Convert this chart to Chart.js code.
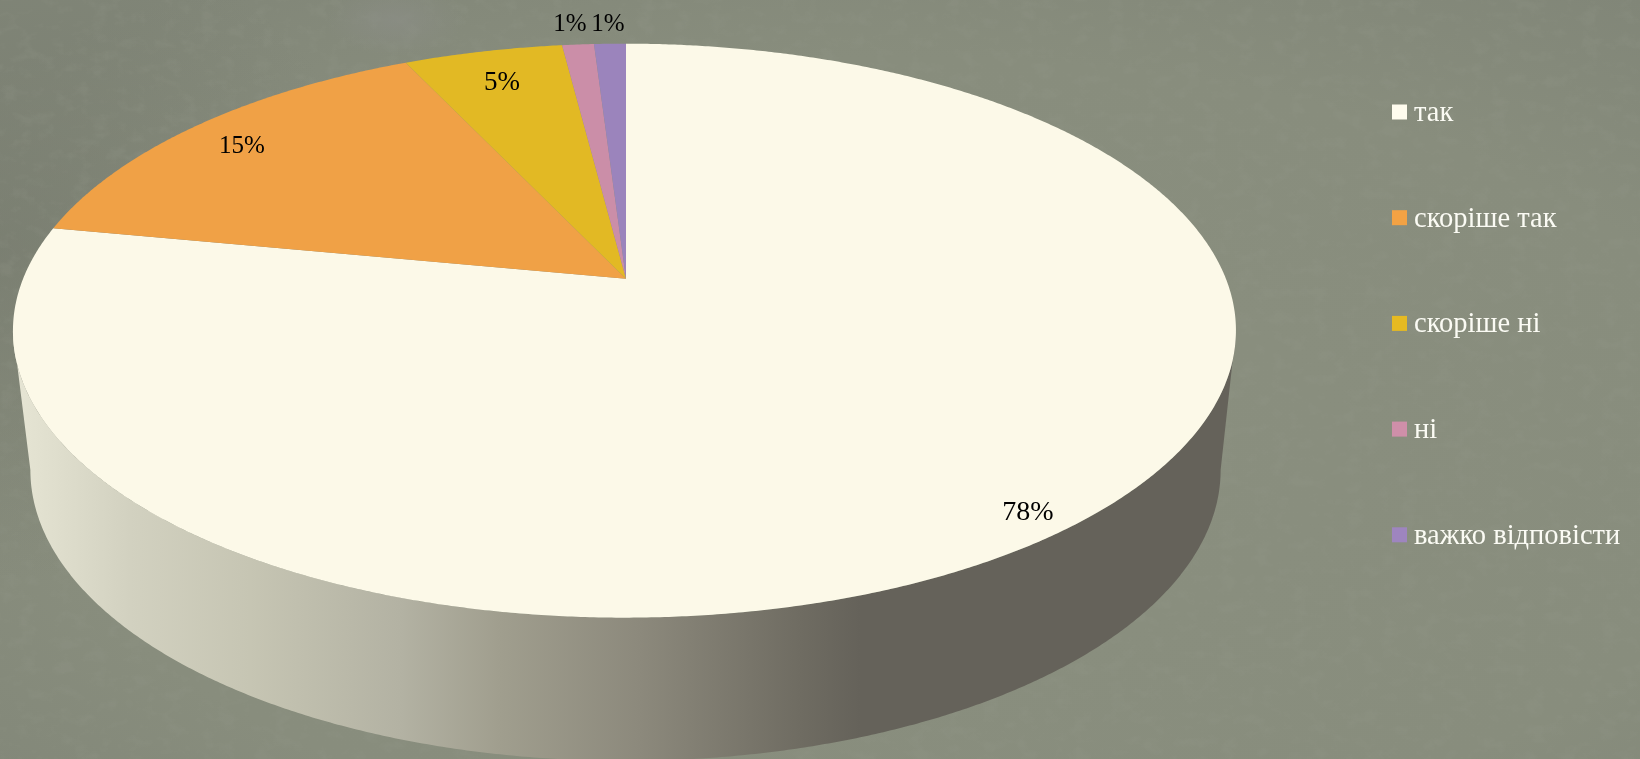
<!DOCTYPE html>
<html lang="uk">
<head>
<meta charset="utf-8">
<title>Pie</title>
<script src="https://cdn.jsdelivr.net/npm/chart.js"></script>
<style>
html,body{margin:0;padding:0;width:1640px;height:759px;overflow:hidden;background:#858a7a;}
#bg{position:absolute;left:0;top:0;width:1640px;height:759px;}
canvas#c{position:absolute;left:0;top:0;}
</style>
</head>
<body>
<svg id="bg" xmlns="http://www.w3.org/2000/svg" width="1640" height="759">
  <defs>
    <radialGradient id="vig" cx="55%" cy="60%" r="75%">
      <stop offset="0" stop-color="#8a8f7f"/>
      <stop offset="0.7" stop-color="#888d7d"/>
      <stop offset="1" stop-color="#818678"/>
    </radialGradient>
    <radialGradient id="shade" cx="50%" cy="50%" r="50%">
      <stop offset="0" stop-color="#72766a" stop-opacity="0.55"/>
      <stop offset="1" stop-color="#72766a" stop-opacity="0"/>
    </radialGradient>
    <radialGradient id="patch" cx="50%" cy="50%" r="50%">
      <stop offset="0" stop-color="#8c8e88" stop-opacity="0.6"/>
      <stop offset="1" stop-color="#8c8e88" stop-opacity="0"/>
    </radialGradient>
    <filter id="grain" x="0" y="0" width="100%" height="100%">
      <feTurbulence type="fractalNoise" baseFrequency="0.055 0.08" numOctaves="4" seed="23"/>
      <feColorMatrix type="matrix" values="0 0 0 0 0.30  0 0 0 0 0.32  0 0 0 0 0.26  0 0 0 3.4 -1.7"/>
    </filter>
  </defs>
  <rect width="1640" height="759" fill="url(#vig)"/>
  <ellipse cx="0" cy="250" rx="380" ry="330" fill="url(#shade)"/>
  <rect width="1640" height="759" filter="url(#grain)" opacity="0.2"/>
  <ellipse cx="395" cy="20" rx="70" ry="36" fill="url(#patch)"/>
</svg>
<canvas id="c" width="1640" height="759"></canvas>
<script>
const categories = ['так', 'скоріше так', 'скоріше ні', 'ні', 'важко відповісти'];
const shares = [78, 15, 5, 1, 1];
const sliceColors = ['#fcf9e8', '#f0a146', '#e2b924', '#cb8ea8', '#9b84bc'];
const legendColors = ['#fffcee', '#f3a244', '#e6ba22', '#cf8fa9', '#9e85bf'];
const valueLabels = ['78%', '15%', '5%', '1%', '1%'];

// Layout of the tilted disc (a perspective view of the pie's circle).
const VIEW = {cx: 626, cy: 278.7, rx: 601.4, ry: 277.6, tilt: 0.181, lean: -0.0025};
const BASE = {cx: 625.5, cy: 417.3, rx: 585.3, ry: 281.4, tilt: 0.181, lean: 0};
const LABEL_AT = [[1028, 513], [242, 146], [502, 83], [570, 24], [608, 24]];
const LABEL_PX = [28, 25, 27, 25, 25];
const LEGEND = {x: 1392, box: 15, gap: 7, firstY: 112, step: 105.7, textDy: 1.5, font: '28.5px "Liberation Serif"', color: '#fbfbf4'};
const SIDE_STOPS = [[15,'#e6e5d4'],[40,'#e2e1d0'],[130,'#d2d1c0'],[250,'#c6c5b3'],[400,'#b3b2a3'],[500,'#a09e8e'],[640,'#8c897c'],[800,'#6f6c62'],[860,'#65625a'],[1240,'#65625a']];

function project(v, a) {
  const s = Math.sin(a), c = Math.cos(a), w = 1 - v.tilt * s - v.lean * c;
  return [v.cx + v.rx * c / w, v.cy + v.ry * s / w];
}
function sweep(ctx, v, a0, a1) {
  const n = Math.max(2, Math.ceil(Math.abs(a1 - a0) / 0.006));
  for (let i = 0; i <= n; i++) {
    const p = project(v, a0 + (a1 - a0) * i / n);
    ctx.lineTo(p[0], p[1]);
  }
}
// Angles (library convention) where the disc's outline turns from back to front.
const FRONT_START = Math.asin(VIEW.tilt);
const FRONT_END = Math.PI - FRONT_START;

class PerspectiveArc extends Chart.ArcElement {
  static id = 'perspectiveArc';
  draw(ctx) {
    const {startAngle, endAngle} = this.getProps(['startAngle', 'endAngle']);
    ctx.save();
    ctx.fillStyle = this.options.backgroundColor;
    ctx.beginPath();
    ctx.moveTo(VIEW.cx, VIEW.cy);
    sweep(ctx, VIEW, startAngle, endAngle);
    ctx.closePath();
    ctx.fill();
    ctx.restore();
  }
}
class PerspectivePie extends Chart.PieController {
  static id = 'perspectivePie';
  static defaults = {dataElementType: 'perspectiveArc'};
}
Chart.register(PerspectiveArc, PerspectivePie);

const sidePlugin = {
  id: 'discSide',
  beforeDatasetsDraw(chart) {
    const ctx = chart.ctx;
    const grad = ctx.createLinearGradient(0, 0, 1640, 0);
    SIDE_STOPS.forEach(s => grad.addColorStop(s[0] / 1640, s[1]));
    chart.getDatasetMeta(0).data.forEach(el => {
      const a0 = Math.max(el.startAngle, FRONT_START);
      const a1 = Math.min(el.endAngle, FRONT_END);
      if (a1 <= a0) return;
      ctx.save();
      ctx.fillStyle = grad;
      ctx.beginPath();
      const st = project(VIEW, a0);
      ctx.moveTo(st[0], st[1]);
      sweep(ctx, VIEW, a0, a1);
      sweep(ctx, BASE, a1, a0);
      ctx.closePath();
      ctx.fill();
      ctx.restore();
    });
  }
};
const textPlugin = {
  id: 'discText',
  afterDatasetsDraw(chart) {
    const ctx = chart.ctx;
    ctx.save();
    ctx.textBaseline = 'middle';
    ctx.textAlign = 'center';
    ctx.fillStyle = '#000000';
    valueLabels.forEach((t, i) => {
      ctx.font = LABEL_PX[i] + 'px "Liberation Serif"';
      ctx.fillText(t, LABEL_AT[i][0], LABEL_AT[i][1]);
    });
    ctx.textAlign = 'left';
    ctx.font = LEGEND.font;
    chart.data.labels.forEach((t, i) => {
      const y = LEGEND.firstY + LEGEND.step * i;
      ctx.fillStyle = legendColors[i];
      ctx.fillRect(LEGEND.x, y - LEGEND.box / 2, LEGEND.box, LEGEND.box);
      ctx.fillStyle = LEGEND.color;
      ctx.fillText(t, LEGEND.x + LEGEND.box + LEGEND.gap, y + LEGEND.textDy);
    });
    ctx.restore();
  }
};

new Chart(document.getElementById('c'), {
  type: 'perspectivePie',
  data: {
    labels: categories,
    datasets: [{data: shares, backgroundColor: sliceColors, borderWidth: 0}]
  },
  options: {
    responsive: false,
    devicePixelRatio: 1,
    animation: false,
    events: [],
    rotation: 0,
    plugins: {legend: {display: false}, tooltip: {enabled: false}, title: {display: false}}
  },
  plugins: [sidePlugin, textPlugin]
});
</script>
</body>
</html>
